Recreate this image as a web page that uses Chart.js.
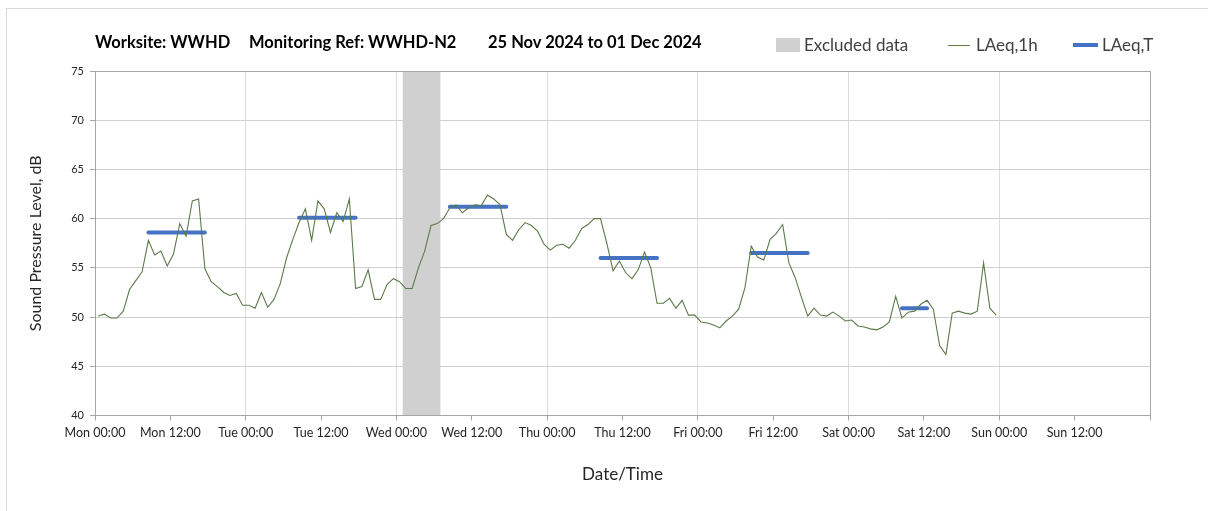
<!DOCTYPE html>
<html>
<head>
<meta charset="utf-8">
<script src="https://cdn.jsdelivr.net/npm/chart.js@4/dist/chart.umd.min.js"></script>
<style>
  html, body { margin: 0; padding: 0; background: #fff; }
  #wrap { position: relative; width: 1208px; height: 511px; overflow: hidden; font-family: Lato, "Open Sans", sans-serif; color: #262626; }
  #frame { position: absolute; left: 6px; top: 8px; width: 1300px; height: 600px; border: 1px solid #d9d9d9; }
  #chartBox { position: absolute; left: 0; top: 0; width: 1208px; height: 511px; }
  .title { position: absolute; top: 32px; font-weight: 700; font-size: 16.5px; white-space: nowrap; color: #000; }
  .leg { position: absolute; top: 34px; font-size: 17px; color: #404040; white-space: nowrap; }
  .sw { position: absolute; }
</style>
</head>
<body>
<div id="wrap">
  <div id="frame"></div>
  <div id="chartBox"><canvas id="noiseChart" width="1208" height="511"></canvas></div>
  <div class="title" style="left:95px">Worksite: WWHD</div>
  <div class="title" style="left:249px">Monitoring Ref: WWHD-N2</div>
  <div class="title" style="left:488px">25 Nov 2024 to 01 Dec 2024</div>
  <div class="sw" style="left:776px;top:38px;width:24px;height:14px;background:#d0d0d0"></div>
  <div class="leg" style="left:804px">Excluded data</div>
  <div class="sw" style="left:948px;top:45px;width:22px;height:1px;background:#5b7b49"></div>
  <div class="leg" style="left:976px">LAeq,1h</div>
  <div class="sw" style="left:1073px;top:43px;width:25px;height:4px;background:#4472c4"></div>
  <div class="leg" style="left:1102px">LAeq,T</div>
</div>
<script>
// Hourly LAeq values, Mon 00:00 onwards (one per hour)
const laeq1h = [
  50.1, 50.3, 49.9, 49.9, 50.6, 52.8, 53.7, 54.6, 57.8, 56.3, 56.7, 55.2, 56.4, 59.5, 58.2, 61.8, 62.0, 54.9, 53.6, 53.1, 52.5, 52.2, 52.4, 51.2,
  51.2, 50.9, 52.5, 51.0, 51.8, 53.4, 56.0, 57.9, 59.6, 61.0, 57.8, 61.8, 61.0, 58.6, 60.6, 59.7, 62.0, 52.9, 53.1, 54.8, 51.8, 51.8, 53.3, 53.9,
  53.6, 52.9, 52.9, 55.0, 56.7, 59.3, 59.5, 60.0, 61.1, 61.4, 60.6, 61.1, 61.4, 61.3, 62.4, 62.0, 61.4, 58.4, 57.8, 58.9, 59.6, 59.3, 58.7, 57.4,
  56.8, 57.3, 57.4, 57.0, 57.8, 59.0, 59.4, 60.0, 60.0, 57.5, 54.7, 55.7, 54.5, 53.9, 54.8, 56.6, 55.0, 51.4, 51.4, 51.9, 50.9, 51.7, 50.2, 50.2,
  49.5, 49.4, 49.2, 48.9, 49.6, 50.1, 50.8, 53.0, 57.2, 56.1, 55.8, 57.9, 58.5, 59.4, 55.5, 54.0, 52.0, 50.1, 50.9, 50.2, 50.1, 50.5, 50.1, 49.6,
  49.7, 49.1, 49.0, 48.8, 48.7, 49.0, 49.5, 52.1, 49.9, 50.5, 50.6, 51.3, 51.7, 50.8, 47.1, 46.2, 50.4, 50.6, 50.4, 50.3, 50.6, 55.5, 50.9, 50.2
];

// Daytime LAeq,T periods (hour index of first and last hourly value)
const periodStart = [8, 32, 56, 80, 104, 128];
const periodEnd = [17, 41, 65, 89, 113, 132];
const laeqT = [58.6, 60.1, 61.2, 56.0, 56.5, 50.9];

// Excluded data window, hours from Mon 00:00
const excludedFrom = 49;
const excludedTo = 55;

const dayNames = ['Mon', 'Tue', 'Wed', 'Thu', 'Fri', 'Sat', 'Sun'];
const yTicks = [40, 45, 50, 55, 60, 65, 70, 75];

const hourlyPoints = laeq1h.map((v, i) => ({ x: i + 0.5, y: v }));

const periodPoints = [];
laeqT.forEach((v, i) => {
    periodPoints.push({ x: periodStart[i] + 0.5, y: v });
    periodPoints.push({ x: periodEnd[i] + 0.5, y: v });
    periodPoints.push({ x: periodEnd[i] + 1, y: null });
});

// grey band behind the grid for the excluded hours, and the plot frame
const bandPlugin = {
    id: 'excludedBand',
    beforeDraw(chart) {
        const { ctx, chartArea, scales } = chart;
        const x1 = scales.x.getPixelForValue(excludedFrom);
        const x2 = scales.x.getPixelForValue(excludedTo);
        ctx.save();
        ctx.fillStyle = '#d0d0d0';
        ctx.fillRect(x1, chartArea.top, x2 - x1, chartArea.bottom - chartArea.top);
        ctx.restore();
    },
    afterDraw(chart) {
        const { ctx, chartArea } = chart;
        ctx.save();
        ctx.strokeStyle = '#a6a6a6';
        ctx.lineWidth = 1;
        ctx.beginPath();
        ctx.moveTo(chartArea.left, chartArea.top + 0.5);
        ctx.lineTo(chartArea.right + 0.5, chartArea.top + 0.5);
        ctx.lineTo(chartArea.right + 0.5, chartArea.bottom);
        ctx.stroke();
        ctx.restore();
    }
};

const ctx = document.getElementById('noiseChart').getContext('2d');
new Chart(ctx, {
    type: 'line',
    data: {
        datasets: [
            {
                label: 'LAeq,1h',
                data: hourlyPoints,
                borderColor: '#5b7b49',
                borderWidth: 1.1,
                pointRadius: 0,
                tension: 0
            },
            {
                label: 'LAeq,T',
                data: periodPoints,
                borderColor: '#4472c4',
                borderWidth: 4,
                borderCapStyle: 'round',
                pointRadius: 0,
                spanGaps: false
            }
        ]
    },
    options: {
        responsive: false,
        animation: false,
        layout: { padding: { left: 0, top: 71, right: 58, bottom: 0 } },
        plugins: {
            legend: { display: false },
            tooltip: { enabled: false }
        },
        scales: {
            x: {
                type: 'linear',
                min: 0,
                max: 168,
                afterFit(scale) { scale.height = 95.5; },
                afterBuildTicks(scale) {
                    const t = [];
                    for (let v = 0; v <= 168; v += 12) t.push({ value: v });
                    scale.ticks = t;
                },
                ticks: {
                    autoSkip: false,
                    maxRotation: 0,
                    padding: 5,
                    color: '#262626',
                    font: { family: 'Lato', size: 12.5 },
                    callback: v => v >= 168 ? '' : dayNames[Math.floor(v / 24)] + (v % 24 === 0 ? ' 00:00' : ' 12:00')
                },
                grid: {
                    color: c => (c.tick && c.tick.value % 24 === 0) ? '#dcdcdc' : 'rgba(0,0,0,0)',
                    tickColor: '#a6a6a6',
                    tickLength: 5
                },
                border: { color: '#a6a6a6' },
                title: {
                    display: true,
                    text: 'Date/Time',
                    color: '#262626',
                    font: { family: 'Lato', size: 17 },
                    padding: { top: 0, bottom: 26 }
                }
            },
            y: {
                min: 40,
                max: 75,
                afterFit(scale) { scale.width = 95; },
                afterBuildTicks(scale) {
                    scale.ticks = yTicks.map(v => ({ value: v }));
                },
                ticks: {
                    padding: 6,
                    color: '#262626',
                    font: { family: 'Lato', size: 11 }
                },
                grid: {
                    color: '#d0d0d0',
                    tickColor: '#a6a6a6',
                    tickLength: 5
                },
                border: { color: '#a6a6a6' },
                title: {
                    display: true,
                    text: 'Sound Pressure Level, dB',
                    color: '#262626',
                    font: { family: 'Lato', size: 16 },
                    padding: { top: 26, bottom: 0 }
                }
            }
        }
    },
    plugins: [bandPlugin]
});
</script>
</body>
</html>
